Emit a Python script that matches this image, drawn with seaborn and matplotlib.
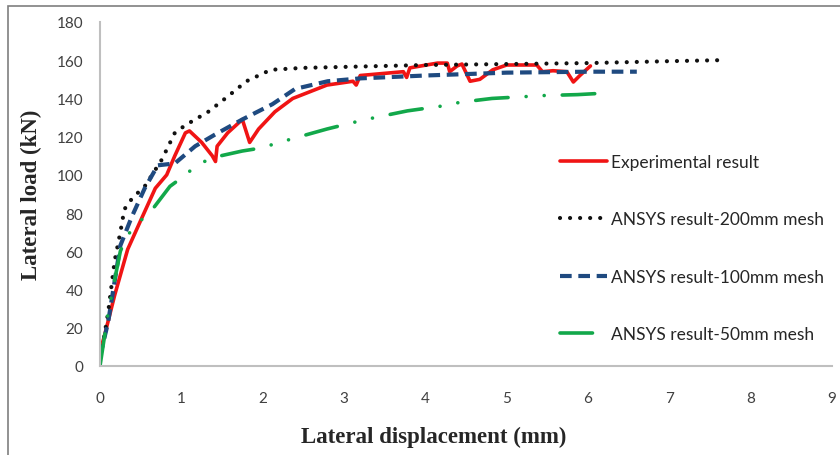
import matplotlib
matplotlib.use("Agg")
import matplotlib.pyplot as plt
import seaborn as sns
from matplotlib.lines import Line2D
from matplotlib.patches import Rectangle

# ---- data ----
exp_x = [0, 0.05, 0.18, 0.34, 0.52, 0.68, 0.82, 0.92, 1.05, 1.1, 1.25, 1.38, 1.42, 1.44,
         1.57, 1.75, 1.84, 1.95, 2.15, 2.37, 2.79, 3.11, 3.15, 3.2, 3.73, 3.77, 3.81,
         4.15, 4.27, 4.3, 4.39, 4.45, 4.55, 4.67, 4.83, 5.0, 5.37, 5.44, 5.57, 5.74,
         5.82, 5.9, 6.03]
exp_y = [8, 15, 37, 61, 78, 93, 100, 110, 122, 123, 117, 110, 107, 115,
         122, 129, 117, 124, 133, 140, 147, 149, 147, 152, 154, 151, 156,
         158.5, 158.5, 154, 157, 158, 149, 150, 155, 157.5, 157.5, 154, 154.5, 154,
         148.6, 152, 157]

m200_x = [0, 0.05, 0.1, 0.18, 0.25, 0.3, 0.4, 0.55, 0.76, 0.92, 1.05, 1.33, 1.57, 1.8,
          2.1, 2.5, 3.0, 4.0, 5.0, 6.0, 7.0, 7.6]
m200_y = [5, 15, 28, 55, 70, 82, 88, 94, 108, 122, 126, 133, 141, 149,
          155, 156, 156.5, 157.5, 158, 158.5, 159.5, 160]

m100_x = [0, 0.1, 0.25, 0.39, 0.55, 0.71, 0.92, 1.17, 1.41, 1.75, 2.12, 2.4, 2.8, 3.2,
          4.0, 5.0, 6.0, 6.6]
m100_y = [5, 23, 63, 78, 93, 105, 106, 115, 121, 129, 137, 145, 149, 150.5,
          152, 153.5, 154, 154]

m50_x = [0, 0.1, 0.25, 0.33, 0.47, 0.62, 0.86, 1.02, 1.19, 1.38, 1.75, 1.97, 2.37, 2.79,
         3.17, 3.38, 3.78, 4.2, 4.43, 4.82, 5.24, 5.44, 5.87, 6.3]
m50_y = [0, 28, 60, 68, 75, 80.6, 94, 99, 105, 109, 112.5, 114, 119, 124,
         128, 130, 133.5, 136, 138, 140, 141, 141.5, 142, 143]

labels = ["Experimental result", "ANSYS result-200mm mesh",
          "ANSYS result-100mm mesh", "ANSYS result-50mm mesh"]
x_ticks = [0, 1, 2, 3, 4, 5, 6, 7, 8, 9]
y_ticks = [0, 20, 40, 60, 80, 100, 120, 140, 160, 180]

sns.set_theme(style="white")
plt.rcParams["font.family"] = ["Lato", "DejaVu Sans"]

fig = plt.figure(figsize=(8.4, 4.56), dpi=100)
ax = fig.add_axes([100/840, 1-367/456, 732/840, 344/456])

styles = [
    dict(color="#f01414", lw=2.6, linestyle="-"),
    dict(color="#111111", lw=3.0, linestyle=(0, (0.01, 2.4)), dash_capstyle="round"),
    dict(color="#1f4a80", lw=3.0, linestyle=(0, (2.8, 1.6)), dash_capstyle="butt"),
    dict(color="#12a84a", lw=2.6, linestyle=(0, (9, 5, 0.01, 5, 0.01, 5)), dash_capstyle="round"),
]
series = [(exp_x, exp_y), (m200_x, m200_y), (m100_x, m100_y), (m50_x, m50_y)]
for (xs, ys), st, lab in zip(series, styles, labels):
    sns.lineplot(x=xs, y=ys, ax=ax, sort=False, estimator=None, label=lab, **st)

ax.set_xlim(0, 9)
ax.set_ylim(0, 180)
ax.set_xticks(x_ticks)
ax.set_yticks(y_ticks)
ax.tick_params(axis="both", length=0, labelsize=11, labelcolor="#404040")
ax.tick_params(axis="y", pad=12)
ax.tick_params(axis="x", pad=18)
for s in ["top", "right"]:
    ax.spines[s].set_visible(False)
for s in ["left", "bottom"]:
    ax.spines[s].set_color("#bfbfbf")
    ax.spines[s].set_linewidth(1.5)

ax.set_xlabel("Lateral displacement (mm)", fontsize=16.5, fontweight="bold",
              family=["Liberation Serif"], color="#262626")
ax.xaxis.set_label_coords((434 - 100) / 732, -(437 - 367) / 344)
ax.xaxis.label.set_va("center")
ax.set_ylabel("Lateral load (kN)", fontsize=16.5, fontweight="bold",
              family=["Liberation Serif"], color="#262626")
ax.yaxis.set_label_coords(-(100 - 31) / 732, (367 - 195) / 344)
ax.yaxis.label.set_va("center")

handles = [Line2D([], [], **st) for st in styles]
ax.legend(handles, labels, loc="upper left", bbox_to_anchor=(560/840, 1-155/456),
          bbox_transform=fig.transFigure, frameon=False, fontsize=12.5,
          handlelength=2.7, handletextpad=0.25, labelspacing=2.38,
          labelcolor="#262626", borderaxespad=0, borderpad=0)

fig.add_artist(Rectangle((8/840, -0.1), 1.1, 1 - 7/456 + 0.1, transform=fig.transFigure,
                         fill=False, edgecolor="#7f7f7f", lw=1.2))

fig.savefig("out.png", dpi=100)
